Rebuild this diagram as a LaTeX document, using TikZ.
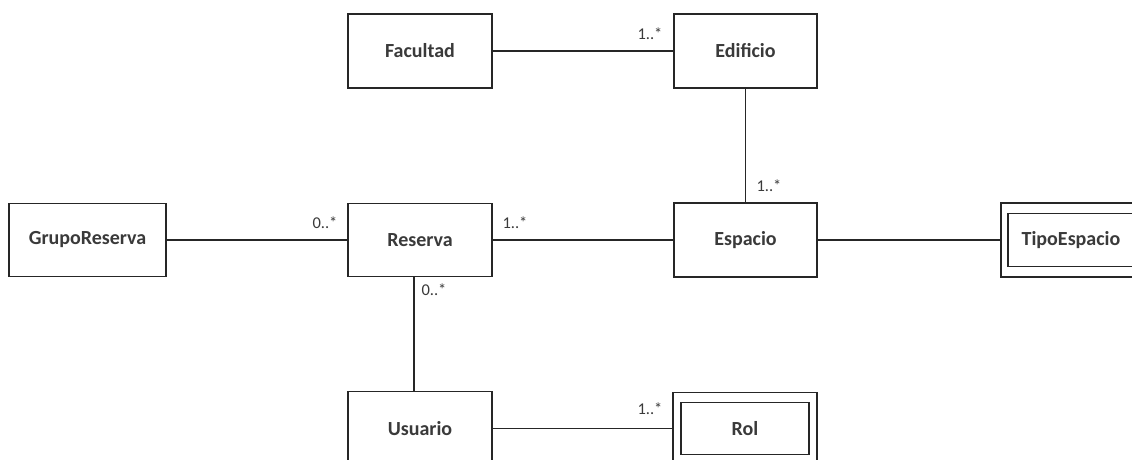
\documentclass[tikz,border=0pt]{standalone}
\usepackage{fontspec}
\setmainfont{Carlito}
\definecolor{txt}{HTML}{3A3A3A}
\definecolor{ln}{HTML}{262626}
\begin{document}
\begin{tikzpicture}[x=1pt,y=-1pt,
  cls/.style={draw=ln,line width=1.3pt,rectangle,inner sep=0pt,text=txt,
    font=\fontsize{20}{24}\selectfont\bfseries},
  outerbox/.style={draw=ln,line width=1.3pt,rectangle,inner sep=0pt},
  mult/.style={text=txt,inner sep=0pt,font=\fontsize{16.5}{19}\selectfont},
  assoc/.style={draw=ln,line width=1.3pt}]
\useasboundingbox (0,0) rectangle (1132,459);
\clip (0,0) rectangle (1132,459);
\fill[white] (0,0) rectangle (1132,459);
% classes
\node[cls,minimum width=144pt,minimum height=74pt] (facultad) at (420,51) {Facultad};
\node[cls,minimum width=143pt,minimum height=74pt] (edificio) at (745.5,51) {Edificio};
\node[cls,minimum width=157pt,minimum height=73pt] (grupo) at (87.5,240) {GrupoReserva};
\node[cls,minimum width=144pt,minimum height=73pt] (reserva) at (420,240) {Reserva};
\node[cls,minimum width=143pt,minimum height=74pt] (espacio) at (745.5,240) {Espacio};
\node[outerbox,minimum width=140pt,minimum height=74pt] (tipoOuter) at (1071,240) {};
\node[cls,minimum width=126pt,minimum height=53pt] (tipo) at (1071,240) {TipoEspacio};
\node[cls,minimum width=144pt,minimum height=74pt] (usuario) at (420,428.5) {Usuario};
\node[outerbox,minimum width=144pt,minimum height=72pt] (rolOuter) at (745,428.5) {};
\node[cls,minimum width=128pt,minimum height=52pt] (rol) at (745,428.5) {Rol};
% associations
\draw[assoc] (facultad.east) -- (edificio.west);
\draw[assoc] (edificio.south) -- (espacio.north);
\draw[assoc] (grupo.east) -- (reserva.west);
\draw[assoc] (reserva.east) -- (espacio.west);
\draw[assoc] (espacio.east) -- (tipoOuter.west);
\draw[assoc] ([xshift=-6pt]reserva.south) -- ([xshift=-6pt]usuario.north);
\draw[assoc] (usuario.east) -- (rolOuter.west);
% multiplicities
\node[mult] (m1) at (650,34) {1..*};
\node[mult] (m2) at (769,186) {1..*};
\node[mult] (m3) at (325,223) {0..*};
\node[mult] (m4) at (515,223) {1..*};
\node[mult] (m5) at (434,290) {0..*};
\node[mult] (m6) at (650,409) {1..*};
\end{tikzpicture}
\end{document}
